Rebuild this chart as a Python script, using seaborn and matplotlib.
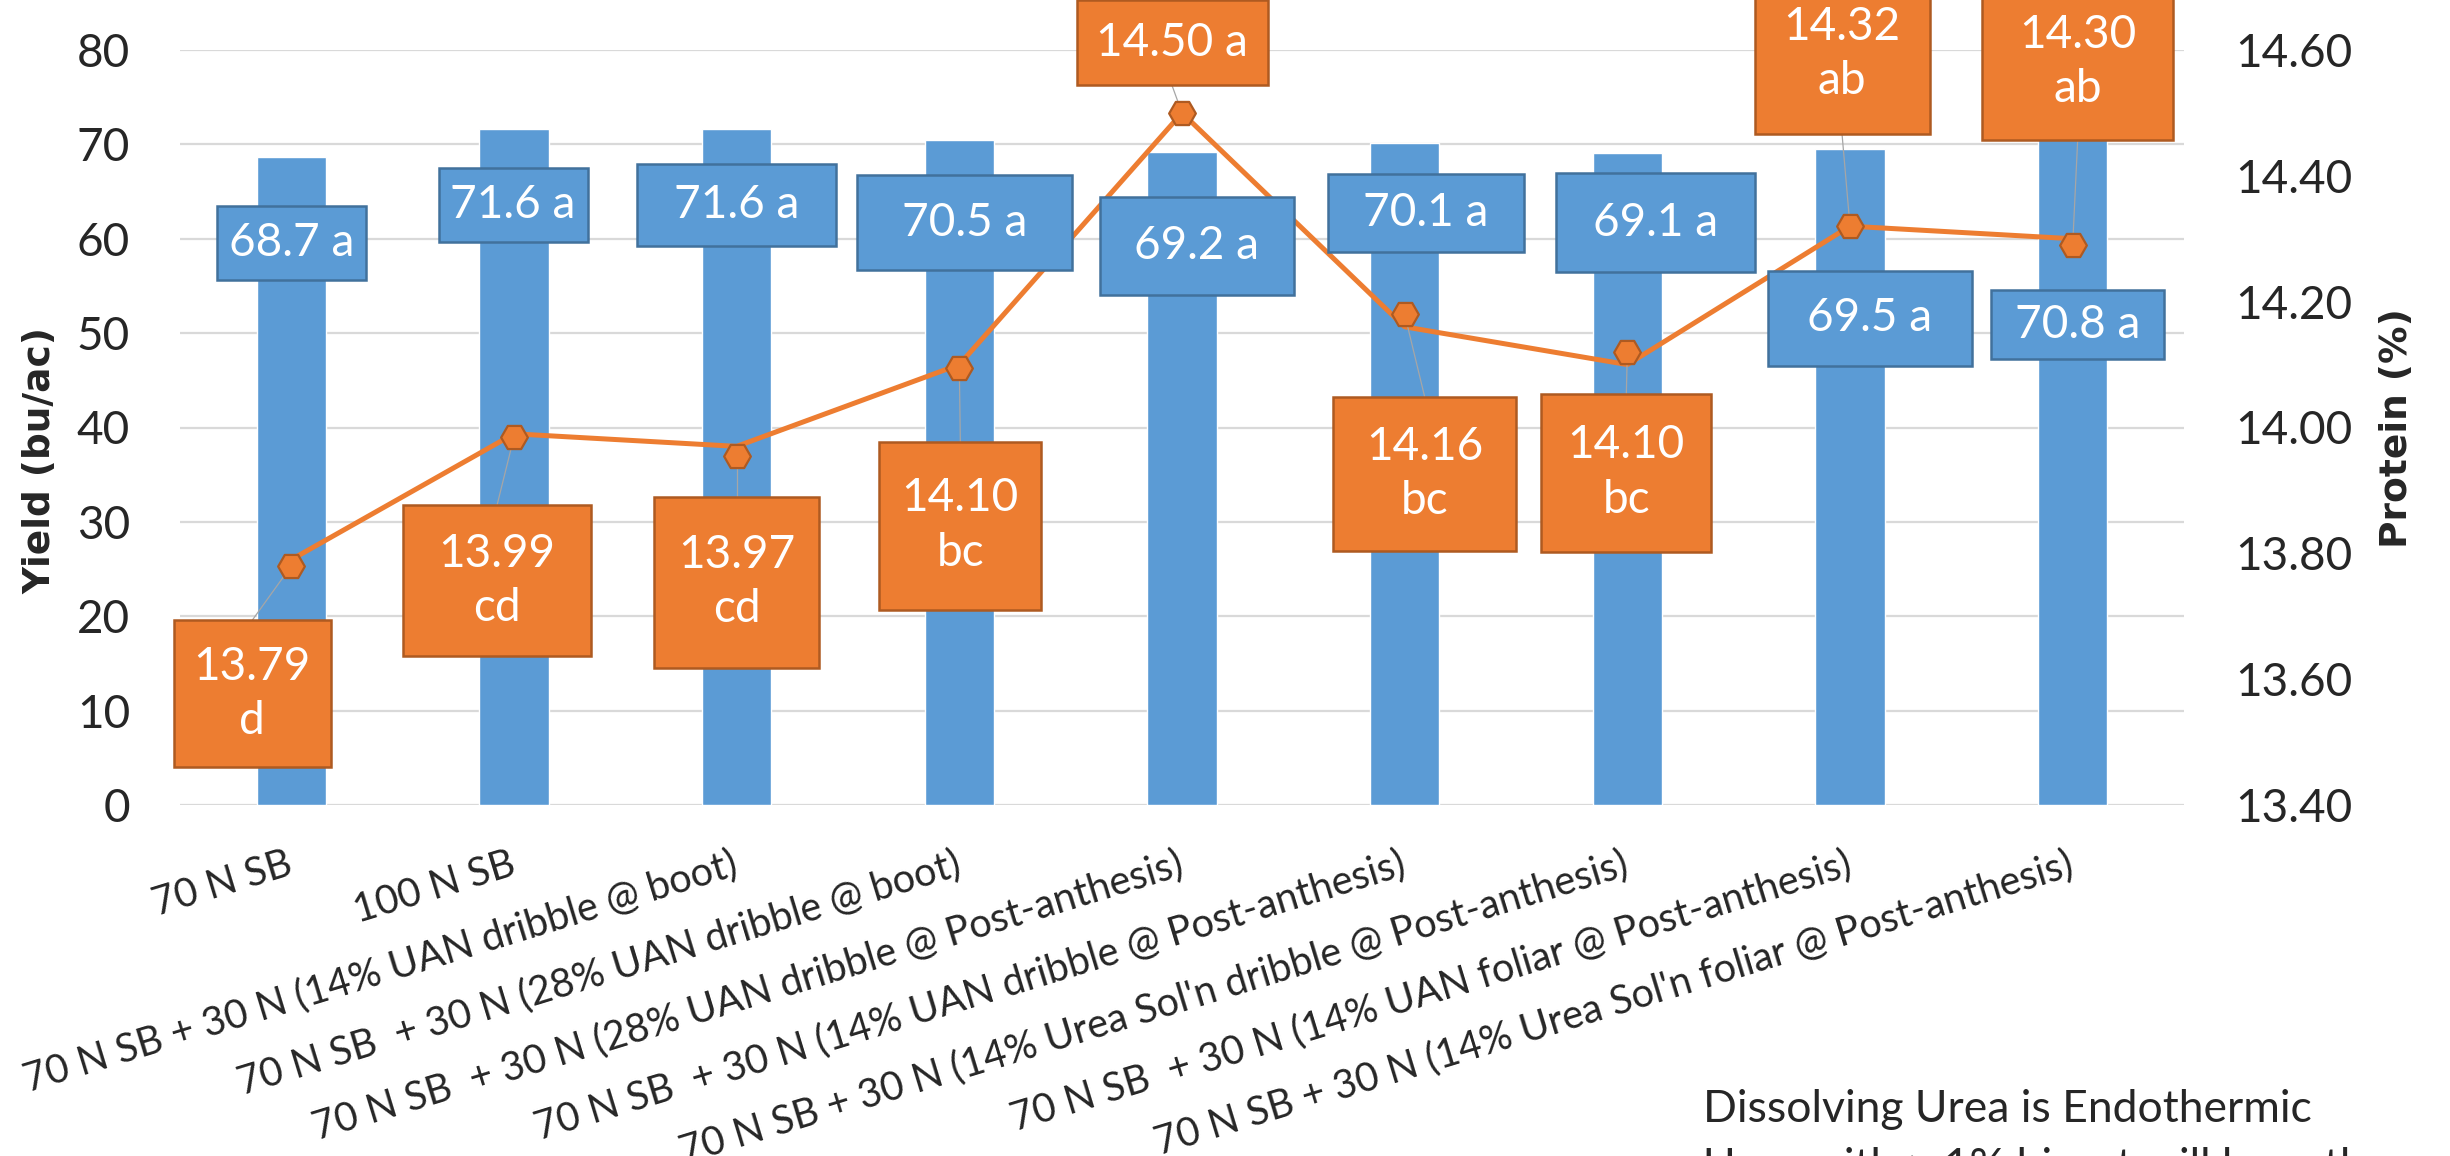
import matplotlib
matplotlib.use("Agg")
import matplotlib.pyplot as plt
import seaborn as sns
import numpy as np
import pandas as pd
from matplotlib.patches import Rectangle
from matplotlib.transforms import IdentityTransform

# ---------------- data ----------------
categories = [
    "70 N SB",
    "100 N SB",
    "70 N SB + 30 N (14% UAN dribble @ boot)",
    "70 N SB  + 30 N (28% UAN dribble @ boot)",
    "70 N SB  + 30 N (28% UAN dribble @ Post-anthesis)",
    "70 N SB  + 30 N (14% UAN dribble @ Post-anthesis)",
    "70 N SB + 30 N (14% Urea Sol'n dribble @ Post-anthesis)",
    "70 N SB  + 30 N (14% UAN foliar @ Post-anthesis)",
    "70 N SB + 30 N (14% Urea Sol'n foliar @ Post-anthesis)",
]
yield_values = [68.7, 71.6, 71.6, 70.5, 69.2, 70.1, 69.1, 69.5, 70.8]
yield_letters = ["a", "a", "a", "a", "a", "a", "a", "a", "a"]
protein_values = [13.79, 13.99, 13.97, 14.10, 14.50, 14.16, 14.10, 14.32, 14.30]
protein_marker_values = [13.78, 13.985, 13.955, 14.095, 14.50, 14.18, 14.12, 14.32, 14.29]
protein_letters = ["d", "cd", "cd", "bc", "a", "bc", "bc", "ab", "ab"]
yield_ticks = [0, 10, 20, 30, 40, 50, 60, 70, 80]
protein_ticks = [13.40, 13.60, 13.80, 14.00, 14.20, 14.40, 14.60]
y_label = "Yield (bu/ac)"
y2_label = "Protein (%)"
notes = ["Dissolving Urea is Endothermic", "Urea with > 1% biuret will burn the crop"]

# ---------------- layout / style (pixels) ----------------
W, H, DPI = 2450, 1156, 100
BLUE, BLUE_EDGE = "#5B9BD5", "#41719C"
ORANGE, ORANGE_EDGE = "#ED7D31", "#AE5A21"
GRID = "#D9D9D9"
# (dx, dy_down, width, height) of each label box relative to its data point
yield_box = [(0, 86, 149, 74), (-1, 76, 149, 74), (0, 76, 199, 82), (5, 83, 215, 95),
             (15, 94, 194, 98), (21, 70, 196, 78), (28, 70, 199, 99), (20, 169, 204, 95),
             (5, 188, 173, 69)]
protein_box = [(-39, 134, 157, 147), (-17, 147, 188, 151), (0, 136, 165, 171),
               (1, 161, 162, 168), (-10, -70, 191, 85), (20, 147, 183, 154),
               (-1, 108, 170, 158), (-8, -172, 175, 159), (5, -177, 191, 157)]
protein_one_line = [False, False, False, False, True, False, False, False, False]

sns.set_style("white")
plt.rcParams["font.family"] = ["Lato", "DejaVu Sans"]

fig = plt.figure(figsize=(W / DPI, H / DPI), dpi=DPI)
ax = fig.add_axes([180 / W, 1 - 805 / H, (2184 - 180) / W, (805 - 50) / H])

df = pd.DataFrame({"cat": categories, "yield": yield_values})
sns.barplot(data=df, x="cat", y="yield", order=categories, color=BLUE, saturation=1,
            width=0.31, errorbar=None, ax=ax, zorder=2)
ax.set_xlim(-0.5, 8.5)
ax.set_ylim(0, 80)
ax.set_yticks(yield_ticks)
ax.set_yticklabels([str(t) for t in yield_ticks])
ax.grid(axis="y", color=GRID, lw=1.6, zorder=0)
ax.grid(axis="x", visible=False)
ax.set_axisbelow(True)
for s in ax.spines.values():
    s.set_visible(False)
ax.set_xlabel("")
ax.set_xticks(range(len(categories)))
ax.set_xticklabels(categories, rotation=17, ha="right", va="center",
                   rotation_mode="anchor", fontsize=28.5)
ax.tick_params(axis="x", length=0, pad=42)
ax.tick_params(axis="y", length=0, pad=36, labelsize=33)
ax.set_ylabel(y_label, fontsize=27, fontweight="bold", family="DejaVu Sans")
ax.yaxis.set_label_coords((40 - 180) / 2004, (805 - 460) / 755)
ax.yaxis.label.set_verticalalignment("center")

ax2 = ax.twinx()
x_idx = np.arange(len(categories))
sns.lineplot(x=x_idx, y=protein_values, ax=ax2, color=ORANGE, lw=3.6, sort=False, zorder=3)
sns.scatterplot(x=x_idx, y=protein_marker_values, ax=ax2, marker="H", s=370,
                color=ORANGE, edgecolor=ORANGE_EDGE, linewidth=1.6, zorder=5)
ax2.set_xlim(-0.5, 8.5)
ax2.set_ylim(13.4, 14.6)
ax2.set_yticks(protein_ticks)
ax2.set_yticklabels([f"{t:.2f}" for t in protein_ticks])
ax2.tick_params(axis="y", length=0, pad=37, labelsize=33)
ax2.grid(False)
for s in ax2.spines.values():
    s.set_visible(False)
ax2.set_ylabel(y2_label, fontsize=27, fontweight="bold", family="DejaVu Sans")
ax2.yaxis.set_label_coords((2397 - 180) / 2004, (805 - 428) / 755)
ax2.yaxis.label.set_verticalalignment("center")
ax2.yaxis.label.set_rotation(90)

ident = IdentityTransform()


def draw_box(cx, cy, w, h, face, edge, text, linespacing=1.36):
    rect = Rectangle((cx - w / 2, cy - h / 2), w, h, transform=ident, facecolor=face,
                     edgecolor=edge, lw=1.8, zorder=10)
    fig.add_artist(rect)
    fig.text(cx, cy, text, transform=ident, ha="center", va="center", color="white",
             fontsize=33, linespacing=linespacing, zorder=11)


# yield labels
for i, (v, let) in enumerate(zip(yield_values, yield_letters)):
    px, py = ax.transData.transform((i, v))
    dx, dy, w, h = yield_box[i]
    draw_box(px + dx, py - dy, w, h, BLUE, BLUE_EDGE, f"{v:.1f} {let}")

# protein labels + leader lines
inv = ax2.transData.inverted()
for i, (v, mv, let) in enumerate(zip(protein_values, protein_marker_values, protein_letters)):
    px, py = ax2.transData.transform((i, v))
    dx, dy, w, h = protein_box[i]
    cx, cy = px + dx, py - dy
    txt = f"{v:.2f} {let}" if protein_one_line[i] else f"{v:.2f}\n{let}"
    draw_box(cx, cy, w, h, ORANGE, ORANGE_EDGE, txt)
    mx, my = ax2.transData.transform((i, mv))
    ey = cy + h / 2 if cy < my else cy - h / 2
    end = inv.transform((cx, ey))
    ax2.plot([i, end[0]], [mv, end[1]], color="#A6A6A6", lw=0.9, zorder=4, clip_on=False)

ax2.set_xlim(-0.5, 8.5)
ax2.set_ylim(13.4, 14.6)

# notes
fig.text(1703 / W, 1 - 1122 / H, notes[0], ha="left", va="baseline", fontsize=32)
fig.text(1703 / W, 1 - 1180 / H, notes[1], ha="left", va="baseline", fontsize=32)

fig.savefig("out.png", dpi=DPI)
